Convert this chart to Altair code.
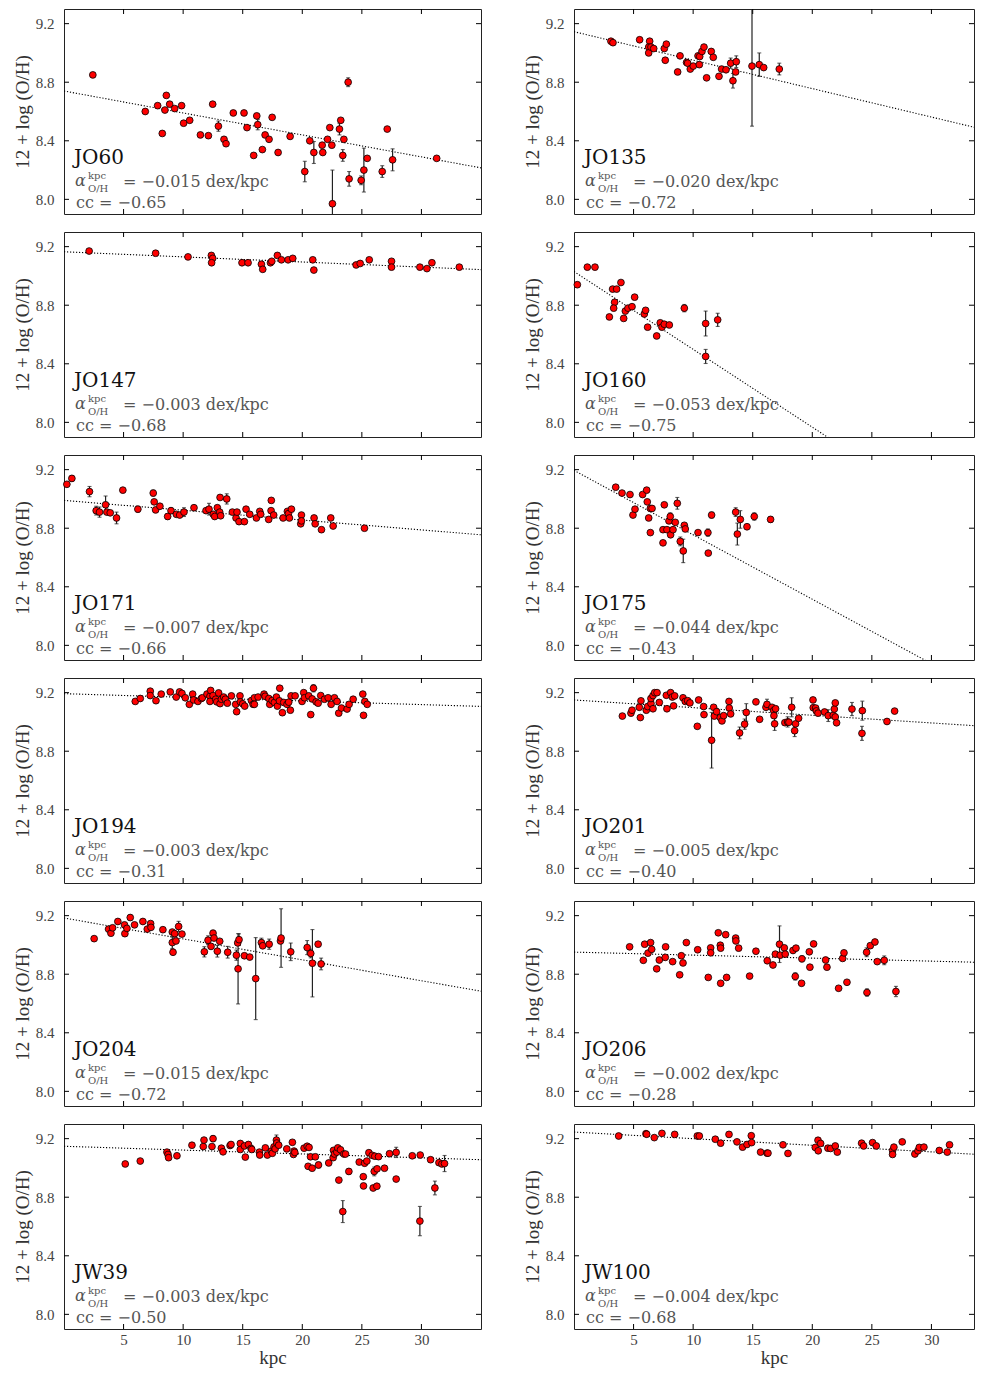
import altair as alt
import pandas as pd

# ---------------- data: (radius kpc, 12+log(O/H), error) ----------------
JO60 = [(2.42,8.85,0),(6.82,8.60,0),(7.86,8.64,0),(8.59,8.71,0),(8.25,8.45,0),(8.47,8.61,0),(8.87,8.65,0),
        (9.29,8.62,0),(9.87,8.64,0),(10.04,8.52,0),(10.55,8.54,0),(11.45,8.44,0),(12.12,8.435,0),(12.48,8.65,0),
        (12.96,8.50,0.035),(13.43,8.41,0.015),(13.60,8.38,0),(14.21,8.59,0),(15.11,8.59,0),(15.36,8.49,0),
        (15.92,8.30,0),(16.18,8.57,0),(16.26,8.51,0.035),(16.65,8.34,0),(16.88,8.44,0),(17.21,8.41,0),
        (17.47,8.56,0),(17.97,8.32,0),(18.98,8.43,0),(20.21,8.19,0.07),(20.63,8.40,0),(20.97,8.32,0.075),
        (21.67,8.37,0),(21.72,8.32,0),(22.12,8.41,0),(22.31,8.49,0),(22.48,8.37,0),(22.53,7.97,0.23),
        (23.12,8.48,0.04),(23.23,8.54,0),(23.40,8.30,0.04),(23.49,8.41,0),(23.85,8.80,0.03),(23.93,8.14,0.05),
        (24.94,8.13,0.03),(25.17,8.20,0.15),(25.45,8.28,0),(26.71,8.19,0.04),(27.13,8.48,0),(27.58,8.27,0.075),
        (31.28,8.28,0)]
JO135 = [(3.10,9.08,0),(3.27,9.07,0),(5.51,9.09,0),(6.35,9.08,0),(6.27,9.04,0),(6.27,9.00,0),(6.46,9.04,0),
         (6.69,9.03,0),(7.58,9.03,0),(7.75,9.06,0),(7.66,8.95,0),(8.70,8.87,0),(8.90,8.98,0),(9.45,8.935,0),
         (9.54,8.93,0),(9.76,8.89,0),(10.01,8.91,0),(10.41,8.98,0),(10.55,8.975,0),(10.52,8.92,0),(10.74,9.01,0),
         (10.91,9.04,0),(11.13,8.83,0),(11.52,9.01,0),(11.69,8.97,0),(12.17,8.84,0),(12.39,8.89,0),(12.76,8.885,0),
         (13.15,8.93,0.035),(13.34,8.81,0.05),(13.57,8.87,0),(13.62,8.94,0.04),(14.94,8.91,0.41),(15.55,8.92,0.08),
         (15.92,8.90,0),(17.23,8.89,0.04)]
JO147 = [(2.11,9.17,0),(7.69,9.155,0),(10.41,9.13,0),(12.37,9.14,0),(12.48,9.12,0),(12.39,9.09,0),(14.94,9.09,0),
         (15.45,9.09,0),(16.57,9.08,0),(16.68,9.045,0),(17.33,9.09,0),(17.44,9.10,0),(17.91,9.14,0),(18.25,9.11,0),
         (18.81,9.11,0),(19.20,9.12,0),(20.88,9.11,0),(20.97,9.04,0),(24.52,9.075,0),(24.86,9.085,0),(25.62,9.11,0),
         (27.49,9.10,0),(27.49,9.06,0),(29.87,9.06,0),(30.46,9.05,0),(30.88,9.09,0),(33.18,9.06,0)]
JO160 = [(0.28,8.94,0),(1.12,9.06,0),(1.76,9.06,0),(2.97,8.72,0.015),(3.24,8.91,0),(3.58,8.91,0),(3.94,8.955,0),
         (3.41,8.82,0),(3.33,8.78,0),(4.17,8.71,0),(4.31,8.76,0),(4.53,8.78,0),(4.87,8.79,0),(5.09,8.855,0),
         (5.90,8.74,0),(6.01,8.765,0),(6.18,8.65,0),(6.94,8.59,0),(7.24,8.68,0),(7.38,8.65,0),(7.58,8.67,0),
         (8.00,8.665,0),(9.26,8.78,0.025),(11.05,8.675,0.085),(11.05,8.45,0.048),(12.06,8.70,0.045)]
JO171 = [(0.24,9.10,0.01),(0.66,9.14,0.02),(2.14,9.05,0.035),(2.70,8.92,0.03),(2.98,8.91,0.035),(3.49,8.96,0.06),
         (3.60,8.91,0),(3.88,8.905,0),(4.41,8.87,0.04),(4.94,9.06,0.01),(6.20,8.93,0.02),(7.49,9.04,0.02),
         (7.57,8.98,0),(7.69,8.925,0),(8.05,8.95,0),(8.70,8.88,0.02),(8.98,8.92,0.02),(9.43,8.895,0),(9.71,8.89,0),
         (10.07,8.91,0.03),(10.91,8.94,0),(11.92,8.92,0),(12.17,8.93,0.04),(12.53,8.895,0),(12.65,8.88,0),
         (12.87,8.94,0.015),(13.07,8.91,0),(13.10,9.01,0),(13.15,8.885,0),(13.66,9.00,0.035),(14.13,8.91,0.015),
         (14.44,8.87,0),(14.52,8.91,0),(14.69,8.845,0),(15.14,8.845,0),(15.28,8.93,0),(15.59,8.895,0),(16.15,8.87,0),
         (16.43,8.915,0),(16.51,8.895,0),(17.18,8.86,0),(17.40,8.99,0),(17.38,8.92,0),(17.60,8.89,0),(18.39,8.87,0),
         (18.75,8.915,0),(18.84,8.90,0),(18.92,8.87,0),(19.09,8.93,0),(19.93,8.89,0),(19.87,8.83,0),(19.93,8.85,0),
         (20.99,8.87,0),(21.08,8.83,0),(21.61,8.79,0),(22.39,8.87,0),(22.59,8.815,0),(25.22,8.80,0)]
JO175 = [(3.50,9.08,0),(4.03,9.04,0),(4.70,9.03,0),(4.95,8.89,0),(5.12,8.93,0),(5.76,9.03,0),(6.10,9.06,0),
         (6.15,8.98,0),(6.27,8.87,0),(6.41,8.77,0),(6.41,8.935,0),(6.55,8.935,0),(7.47,8.70,0),(7.47,8.79,0),
         (7.58,8.96,0),(7.80,8.79,0),(7.97,8.85,0),(8.08,8.88,0.025),(8.11,8.755,0),(8.31,8.79,0),(8.50,8.84,0),
         (8.67,8.97,0.04),(8.92,8.71,0.03),(9.17,8.645,0.08),(9.26,8.82,0),(9.34,8.795,0),(10.41,8.77,0),
         (11.24,8.77,0.025),(11.27,8.63,0),(11.55,8.89,0.02),(13.57,8.91,0.03),(13.71,8.76,0.075),(13.96,8.86,0.06),
         (14.52,8.81,0),(15.13,8.88,0.025),(16.50,8.86,0.02)]
JO194 = [(5.98,9.14,0),(6.40,9.16,0),(7.24,9.21,0),(7.24,9.18,0),(7.72,9.145,0),(8.16,9.19,0),(8.92,9.205,0),
         (9.42,9.17,0),(9.70,9.205,0),(9.90,9.195,0),(10.18,9.165,0),(10.52,9.12,0),(10.80,9.19,0),(10.88,9.15,0),
         (11.24,9.14,0),(11.53,9.16,0),(11.61,9.165,0),(12.00,9.19,0),(12.25,9.175,0),(12.31,9.215,0),(12.25,9.14,0),
         (12.51,9.18,0),(12.73,9.155,0),(12.82,9.137,0),(12.98,9.198,0),(13.10,9.125,0),(13.21,9.155,0),
         (13.40,9.17,0),(13.54,9.155,0),(13.71,9.128,0),(14.05,9.178,0),(14.41,9.12,0),(14.49,9.07,0),
         (14.77,9.178,0),(14.80,9.137,0),(15.00,9.124,0),(15.17,9.108,0),(15.73,9.146,0),(15.87,9.12,0),
         (15.98,9.165,0),(15.98,9.12,0),(16.29,9.17,0),(16.79,9.19,0),(16.88,9.175,0),(17.19,9.16,0),(17.27,9.12,0),
         (17.47,9.146,0),(17.66,9.133,0),(17.83,9.17,0),(17.91,9.108,0),(18.08,9.144,0),(18.11,9.23,0),
         (18.33,9.063,0),(18.44,9.133,0),(18.72,9.12,0),(18.86,9.135,0),(19.00,9.08,0),(19.06,9.178,0),
         (19.40,9.178,0),(19.98,9.14,0),(20.12,9.20,0),(20.18,9.165,0),(20.54,9.178,0),(20.71,9.05,0),
         (20.83,9.157,0),(20.94,9.23,0.025),(21.16,9.137,0),(21.33,9.128,0),(21.55,9.18,0),(21.86,9.155,0),
         (22.17,9.165,0),(22.42,9.12,0),(22.70,9.165,0),(22.92,9.14,0),(23.06,9.06,0),(23.29,9.095,0),
         (23.76,9.088,0),(23.93,9.12,0),(24.27,9.155,0),(25.08,9.19,0),(25.14,9.045,0),(25.25,9.14,0),(25.45,9.12,0)]
JO201 = [(4.06,9.04,0),(4.78,9.06,0),(4.87,9.08,0),(5.48,9.10,0),(5.57,9.03,0),(5.62,9.144,0),(6.07,9.08,0),
         (6.18,9.105,0),(6.46,9.126,0),(6.46,9.16,0),(6.63,9.09,0),(6.63,9.18,0),(6.77,9.20,0),(6.97,9.20,0),
         (7.16,9.133,0),(7.75,9.182,0),(7.80,9.09,0),(8.11,9.20,0),(8.25,9.17,0),(8.36,9.11,0),(8.45,9.178,0),
         (9.15,9.165,0),(9.34,9.14,0),(9.54,9.145,0),(9.73,9.13,0),(10.35,8.97,0),(10.46,9.15,0),(10.88,9.105,0),
         (10.91,9.05,0),(11.55,8.875,0.19),(11.72,9.10,0),(11.78,9.04,0),(11.97,9.07,0.02),(12.28,9.03,0),
         (12.42,9.007,0),(12.56,9.043,0),(13.01,9.14,0),(13.03,9.095,0),(13.15,9.055,0),(13.90,8.925,0.04),
         (14.32,8.985,0.035),(14.46,9.065,0.06),(15.27,9.137,0),(15.58,9.018,0),(16.11,9.10,0),(16.20,9.12,0.035),
         (16.62,9.10,0),(16.76,9.077,0),(16.78,9.043,0),(16.84,8.987,0.045),(16.92,9.09,0),(17.70,8.995,0),
         (17.93,9.00,0.035),(18.04,8.998,0),(18.27,9.10,0.065),(18.52,8.94,0.04),(18.60,8.987,0),(18.85,9.025,0),
         (20.06,9.15,0),(20.08,9.097,0),(20.28,9.095,0),(20.34,9.075,0),(20.48,9.06,0),(21.03,9.068,0),
         (21.34,9.043,0.04),(21.76,9.045,0),(21.85,9.088,0),(21.93,9.13,0),(21.93,9.034,0),(22.04,8.994,0),
         (23.33,9.088,0.045),(24.20,9.077,0.065),(24.17,8.922,0.048),(26.27,9.003,0),(26.91,9.074,0)]
JO204 = [(2.53,9.043,0),(3.74,9.108,0),(3.94,9.08,0),(4.08,9.117,0),(4.52,9.16,0),(5.08,9.137,0),(5.11,9.077,0),
         (5.28,9.113,0),(5.56,9.187,0.02),(5.92,9.137,0),(6.62,9.16,0),(6.99,9.108,0),(7.27,9.146,0),(7.30,9.12,0),
         (8.30,9.104,0),(9.09,9.088,0),(9.09,9.016,0.04),(9.15,8.95,0),(9.29,9.077,0),(9.40,9.027,0),
         (9.62,9.126,0.035),(9.90,9.074,0),(11.78,8.953,0.035),(12.09,9.032,0.03),(12.34,8.99,0),(12.51,9.08,0.02),
         (12.59,9.047,0),(12.87,8.957,0.04),(13.07,9.025,0),(13.74,8.95,0.04),(14.47,8.93,0.035),
         (14.61,8.837,0.24),(14.58,9.014,0),(14.69,9.036,0.04),(15.14,8.926,0),(15.59,8.917,0),(16.09,8.77,0.28),
         (16.57,9.016,0.03),(16.68,8.994,0),(17.22,9.005,0.035),(18.17,9.027,0),(18.22,9.047,0.20),
         (19.03,8.953,0.06),(20.41,8.982,0.048),(20.71,8.942,0.03),(20.85,8.875,0.23),(21.33,9.005,0),
         (21.58,8.87,0.04)]
JO206 = [(4.67,8.987,0),(5.82,8.895,0),(5.93,9.005,0),(6.21,8.944,0),(6.43,9.016,0),(6.52,8.97,0),(6.94,8.837,0),
         (7.16,8.897,0),(7.66,8.915,0),(7.69,8.987,0),(8.28,8.886,0),(8.87,8.796,0),(9.01,8.926,0),(9.15,8.877,0),
         (9.43,9.016,0),(10.38,8.967,0),(11.27,8.778,0),(11.47,8.98,0),(11.47,8.946,0),(12.11,9.083,0),
         (12.28,8.998,0),(12.31,8.978,0),(12.31,8.738,0),(12.73,9.07,0),(12.81,8.778,0),(13.57,9.047,0),
         (13.59,9.027,0),(13.82,8.978,0),(14.74,8.787,0),(15.27,8.957,0),(16.22,8.892,0),(16.70,8.863,0),
         (16.90,8.937,0),(17.25,9.005,0.125),(17.31,8.93,0),(17.65,8.98,0),(17.73,8.937,0),(18.38,8.962,0),
         (18.63,8.978,0),(18.57,8.785,0.025),(19.13,8.905,0.02),(19.10,8.738,0),(19.75,8.953,0),(19.80,8.848,0),
         (20.11,9.007,0),(21.12,8.897,0),(21.23,8.848,0),(22.21,8.704,0),(22.55,8.908,0),(22.66,8.946,0),
         (22.91,8.745,0),(24.56,8.95,0.03),(24.59,8.675,0.025),(24.87,8.995,0),(25.26,9.02,0),(25.45,8.886,0),
         (26.04,8.895,0.03),(27.02,8.682,0.035)]
JW39 = [(5.14,9.027,0),(6.40,9.047,0),(8.64,9.108,0),(8.73,9.092,0),(8.78,9.07,0),(9.48,9.083,0),(10.74,9.155,0),
        (11.69,9.146,0),(11.75,9.19,0),(12.42,9.146,0),(12.51,9.20,0.02),(13.21,9.135,0),(13.35,9.11,0),
        (13.94,9.153,0),(14.02,9.16,0),(14.80,9.167,0),(14.80,9.126,0),(15.14,9.15,0),(15.22,9.074,0),(15.48,9.16,0),
        (15.70,9.133,0),(15.76,9.126,0),(16.40,9.108,0),(16.43,9.088,0),(16.90,9.137,0),(17.07,9.088,0),
        (17.41,9.115,0),(17.49,9.10,0),(17.63,9.144,0),(17.72,9.13,0),(17.83,9.19,0.035),(17.86,9.17,0),
        (18.02,9.155,0),(18.70,9.13,0),(19.17,9.175,0),(19.26,9.092,0),(19.31,9.115,0),(19.37,9.106,0),
        (20.15,9.135,0),(20.41,9.148,0),(20.49,9.011,0),(20.57,9.14,0),(20.69,9.076,0),(20.83,8.998,0),
        (21.10,9.076,0),(21.36,9.02,0.02),(22.22,9.034,0),(22.62,9.12,0),(22.59,9.07,0),(22.70,9.095,0),
        (22.90,9.108,0),(22.98,9.137,0),(23.07,8.917,0),(23.21,9.124,0),(23.40,8.702,0.075),(23.49,9.095,0),
        (23.63,9.095,0),(23.91,8.976,0.02),(24.78,9.04,0),(25.12,8.94,0),(25.14,8.877,0),(25.23,9.032,0),
        (25.42,9.047,0),(25.59,9.104,0),(25.87,9.086,0),(25.95,8.863,0),(26.04,8.976,0.03),(26.09,9.08,0),
        (26.26,8.875,0),(26.28,8.994,0),(26.40,9.077,0),(26.90,8.998,0),(27.32,9.097,0),(27.88,9.106,0.035),
        (27.88,8.924,0),(29.23,9.083,0),(29.87,8.637,0.10),(29.90,9.088,0),(30.77,9.056,0),(31.13,8.863,0.047),
        (31.47,9.036,0),(31.72,9.027,0),(31.94,9.03,0.055)]
JW100 = [(3.75,9.218,0),(6.04,9.234,0),(6.10,9.23,0),(6.74,9.207,0),(7.38,9.236,0),(8.45,9.229,0),(10.35,9.218,0),
         (10.52,9.218,0),(11.86,9.196,0),(12.31,9.169,0),(13.01,9.229,0),(13.68,9.178,0),(14.15,9.142,0),
         (14.52,9.16,0),(14.88,9.22,0),(14.91,9.173,0),(15.66,9.108,0),(16.20,9.101,0),(16.28,9.101,0),
         (17.54,9.158,0),(17.96,9.099,0),(20.25,9.14,0),(20.48,9.189,0),(20.50,9.117,0),(20.70,9.167,0),
         (21.31,9.135,0),(21.54,9.133,0),(21.93,9.15,0),(22.10,9.108,0),(24.14,9.169,0),(24.31,9.15,0),
         (25.06,9.173,0),(25.37,9.15,0),(26.74,9.119,0),(26.74,9.092,0),(26.85,9.142,0),(27.55,9.178,0),
         (28.61,9.095,0),(28.87,9.117,0),(28.98,9.14,0),(29.37,9.142,0),(30.66,9.119,0),(31.33,9.108,0),
         (31.52,9.158,0)]

# fitted gradient lines, value read at r = 0 and r = 35 kpc
FIT_R = [0, 35]
FITS = {"JO60": [8.74, 8.215], "JO135": [9.145, 8.465], "JO147": [9.165, 9.043], "JO160": [9.03, 7.17],
        "JO171": [8.99, 8.755], "JO175": [9.195, 7.655], "JO194": [9.193, 9.106], "JO201": [9.15, 8.967],
        "JO204": [9.184, 8.684], "JO206": [8.951, 8.879], "JW39": [9.148, 9.056], "JW100": [9.245, 9.087]}
ALPHA = {"JO60": "−0.015", "JO135": "−0.020", "JO147": "−0.003", "JO160": "−0.053", "JO171": "−0.007",
         "JO175": "−0.044", "JO194": "−0.003", "JO201": "−0.005", "JO204": "−0.015", "JO206": "−0.002",
         "JW39": "−0.003", "JW100": "−0.004"}
CC = {"JO60": "−0.65", "JO135": "−0.72", "JO147": "−0.68", "JO160": "−0.75", "JO171": "−0.66", "JO175": "−0.43",
      "JO194": "−0.31", "JO201": "−0.40", "JO204": "−0.72", "JO206": "−0.28", "JW39": "−0.50", "JW100": "−0.68"}
DATA = {"JO60": JO60, "JO135": JO135, "JO147": JO147, "JO160": JO160, "JO171": JO171, "JO175": JO175,
        "JO194": JO194, "JO201": JO201, "JO204": JO204, "JO206": JO206, "JW39": JW39, "JW100": JW100}
LEFT = ["JO60", "JO147", "JO171", "JO194", "JO204", "JW39"]
RIGHT = ["JO135", "JO160", "JO175", "JO201", "JO206", "JW100"]
Y_TICKS = [8.0, 8.4, 8.8, 9.2]
X_TICKS = [5, 10, 15, 20, 25, 30]
Y_DOMAIN = [7.9, 9.3]

SERIF = "Liberation Serif"
ANN = "DejaVu Serif"
GRAY = "#555555"
H = 205


def txt(s, x, y, size, color=GRAY, style="normal", font=ANN):
    return alt.Chart(pd.DataFrame({"t": [s]})).mark_text(
        align="left", baseline="alphabetic", font=font, fontSize=size, color=color, fontStyle=style
    ).encode(x=alt.value(x), y=alt.value(y), text="t:N")


def panel(name, right, bottom):
    W = 400 if right else 417
    xmax = W / 417 * 35
    xs = alt.Scale(domain=[0, xmax], nice=False, zero=False)
    ys = alt.Scale(domain=Y_DOMAIN, nice=False, zero=False)
    if bottom:
        xax = alt.Axis(values=X_TICKS, title="kpc", ticks=False, tickSize=0, domain=False, grid=False,
                       labelPadding=3, titlePadding=1, format="d")
    else:
        xax = None
    yax = alt.Axis(values=Y_TICKS, format=".1f", title="12 + log (O/H)", ticks=False, tickSize=0,
                   domain=False, grid=False, labelPadding=10, titlePadding=3)

    df = pd.DataFrame(DATA[name], columns=["r", "oh", "e"])
    df["lo"] = df["oh"] - df["e"]
    df["hi"] = df["oh"] + df["e"]
    dfe = df[df["e"] > 0].copy()
    # the frame cuts error bars that leave the plotted range
    dfe["lo_v"] = dfe["lo"].clip(lower=Y_DOMAIN[0])
    dfe["hi_v"] = dfe["hi"].clip(upper=Y_DOMAIN[1])
    caps_lo = dfe[dfe["lo"] >= Y_DOMAIN[0]]
    caps_hi = dfe[dfe["hi"] <= Y_DOMAIN[1]]
    fit = pd.DataFrame({"r": FIT_R, "oh": FITS[name]})

    X = lambda f: alt.X(f, type="quantitative", scale=xs, axis=xax)
    Y = lambda f: alt.Y(f, type="quantitative", scale=ys, axis=yax)

    layers = [alt.Chart(fit).mark_line(color="black", strokeWidth=1.1, strokeDash=[1.2, 1.8], clip=True)
              .encode(x=X("r"), y=Y("oh"))]
    if len(dfe):
        layers.append(alt.Chart(dfe).mark_rule(color="#222", strokeWidth=1.2, clip=True)
                      .encode(x=X("r"), y=Y("lo_v"), y2="hi_v:Q"))
        for cdf, f in ((caps_lo, "lo"), (caps_hi, "hi")):
            if len(cdf):
                layers.append(alt.Chart(cdf).mark_tick(color="#222", orient="horizontal", size=4, thickness=1.1,
                                                       clip=True).encode(x=X("r"), y=Y(f)))
    layers.append(alt.Chart(df).mark_circle(color="#ff0000", stroke="black", strokeWidth=0.8, size=46, opacity=1)
                  .encode(x=X("r"), y=Y("oh")))
    # inward ticks on all four sides
    yt = pd.DataFrame({"v": Y_TICKS})
    xt = pd.DataFrame({"v": X_TICKS})
    layers.append(alt.Chart(yt).mark_rule(color="black", strokeWidth=1)
                  .encode(y=Y("v"), x=alt.value(0), x2=alt.value(5)))
    layers.append(alt.Chart(yt).mark_rule(color="black", strokeWidth=1)
                  .encode(y=Y("v"), x=alt.value(W - 5), x2=alt.value(W)))
    layers.append(alt.Chart(xt).mark_rule(color="black", strokeWidth=1)
                  .encode(x=X("v"), y=alt.value(0), y2=alt.value(5)))
    layers.append(alt.Chart(xt).mark_rule(color="black", strokeWidth=1)
                  .encode(x=X("v"), y=alt.value(H - 5), y2=alt.value(H)))
    # annotations
    layers += [
        txt(name, 10, 155, 20, color="#111"),
        txt("α", 11, 177, 16, style="italic"),
        txt("kpc", 24, 169.5, 10),
        txt("O/H", 24, 183, 10),
        txt("= " + ALPHA[name] + " dex/kpc", 59, 178, 16),
        txt("cc = " + CC[name], 12, 198.5, 16),
    ]
    return alt.layer(*layers).properties(width=W, height=H)


left_col = alt.vconcat(*[panel(n, False, i == 5) for i, n in enumerate(LEFT)], spacing=16)
right_col = alt.vconcat(*[panel(n, True, i == 5) for i, n in enumerate(RIGHT)], spacing=16)

chart = alt.hconcat(left_col, right_col, spacing=40).properties(
    padding={"left": 4, "top": 0, "right": 0, "bottom": 0}
).configure_view(
    stroke="#222", strokeWidth=1
).configure_axis(
    labelFont=SERIF, titleFont=SERIF, labelFontSize=15, titleFontSize=19,
    labelColor="#444", titleColor="#333", titleFontWeight="normal"
)

chart.save("out.html", embed_options={"renderer": "svg", "actions": False})
